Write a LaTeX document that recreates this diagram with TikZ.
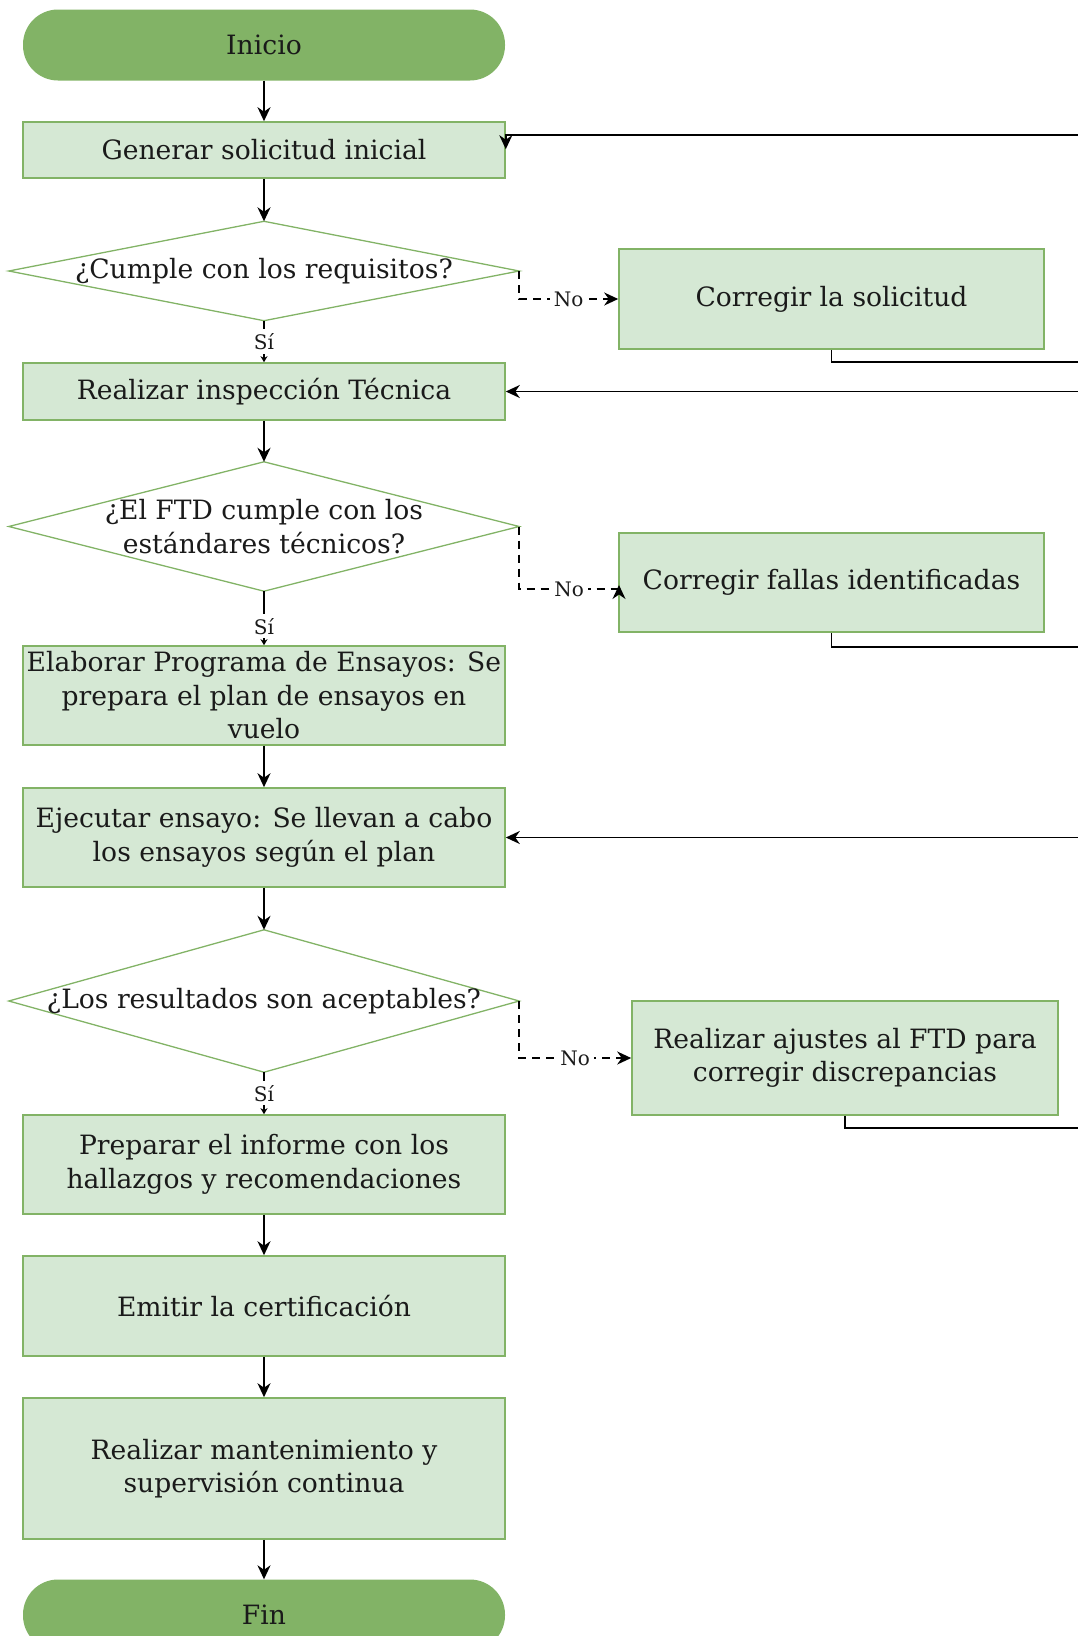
\documentclass[tikz,border=0pt]{standalone}
\usepackage{fontspec}
\setmainfont{DejaVu Serif}
\usetikzlibrary{arrows.meta,backgrounds}
\definecolor{leafgreen}{HTML}{82B366}
\definecolor{palegreen}{HTML}{D5E8D4}
\definecolor{inkgray}{HTML}{1A1A1A}

\begin{document}
\begin{tikzpicture}[x=1pt,y=-1pt,
    every node/.style={text=inkgray,font=\fontsize{26.6}{33.5}\selectfont,align=center},
    terminal/.style={fill=leafgreen,rounded corners=35pt,minimum width=482pt,minimum height=71pt},
    task/.style={draw=leafgreen,line width=1.6pt,fill=palegreen,minimum width=482pt,minimum height=#1},
    task/.default=99pt,
    decision/.style={minimum width=510pt,minimum height=#1,inner sep=0pt},
    flow/.style={line width=1.8pt,-{Stealth[length=14pt,width=13pt,inset=4.5pt]}},
    yes/.style={line width=1.8pt,-{Stealth[length=6pt,width=7pt]}},
    no/.style={flow,dash pattern=on 8pt off 6pt},
    branch/.style={fill=white,font=\fontsize{20}{22}\selectfont,inner sep=4pt}]
    \useasboundingbox (0,0) rectangle (1078,1636);
    \clip (0,0) rectangle (1078,1636);
    \node[terminal] (start) at (264,45) {Inicio};
    \node[task=56pt] (request) at (264,150) {Generar solicitud inicial};
    \node[decision=99pt] (check) at (264,271) {¿Cumple con los requisitos?};
    \node[task=57pt] (inspect) at (264,391.5) {Realizar inspección Técnica};
    \node[decision=129pt] (standards) at (264,526.5) {¿El FTD cumple con los\\estándares técnicos?};
    \node[task] (program) at (264,695.5) {Elaborar Programa de Ensayos: Se\\prepara el plan de ensayos en\\vuelo};
    \node[task] (testrun) at (264,837.5) {Ejecutar ensayo: Se llevan a cabo\\los ensayos según el plan};
    \node[decision=142pt] (results) at (264,1001) {¿Los resultados son aceptables?};
    \node[task] (report) at (264,1164.5) {Preparar el informe con los\\hallazgos y recomendaciones};
    \node[task=100pt] (certify) at (264,1306) {Emitir la certificación};
    \node[task=141pt] (upkeep) at (264,1468.5) {Realizar mantenimiento y\\supervisión continua};
    \node[terminal] (finish) at (264,1615) {Fin};
    \node[task=100pt,minimum width=425pt] (fixrequest) at (831.5,299) {Corregir la solicitud};
    \node[task,minimum width=425pt] (fixfaults) at (831.5,582.5) {Corregir fallas identificadas};
    \node[task=114pt,minimum width=426pt] (adjust) at (845,1058) {Realizar ajustes al FTD para\\corregir discrepancias};
    \begin{scope}[on background layer]
        \foreach \d in {check,standards,results}
            \draw[leafgreen,line width=1.3pt] (\d.west) -- (\d.north) -- (\d.east) -- (\d.south) -- cycle;
    \end{scope}
    \coordinate (faultsbend) at (619,589);
    \coordinate (faultstip) at (619,585);
    \coordinate (loopA) at (1100,362);
    \coordinate (loopB) at (1100,647);
    \coordinate (loopC) at (1100,1128);
    \draw[flow] (start) -- (request);
    \draw[flow] (request) -- (check);
    \draw[yes] (check) -- node[branch]{Sí} (inspect);
    \draw[flow] (inspect) -- (standards);
    \draw[yes] (standards) -- node[branch,pos=0.65]{Sí} (program);
    \draw[flow] (program) -- (testrun);
    \draw[flow] (testrun) -- (results);
    \draw[yes] (results) -- node[branch]{Sí} (report);
    \draw[flow] (report) -- (certify);
    \draw[flow] (certify) -- (upkeep);
    \draw[flow] (upkeep) -- (finish);
    \draw[no] (check.east) |- node[branch,pos=0.75]{No} (fixrequest);
    \draw[no] (standards.east) |- node[branch,pos=0.75]{No} (faultsbend) -- (faultstip);
    \draw[no] (results.east) |- node[branch,pos=0.75]{No} (adjust);
    \draw[flow] (fixrequest.south) |- (loopA) |- ([yshift=-14pt]request.north east) -- ([yshift=-28pt]request.north east);
    \draw[flow] (fixfaults.south) |- (loopB) |- (inspect.east);
    \draw[flow] (adjust.south) |- (loopC) |- (testrun.east);
\end{tikzpicture}
\end{document}
